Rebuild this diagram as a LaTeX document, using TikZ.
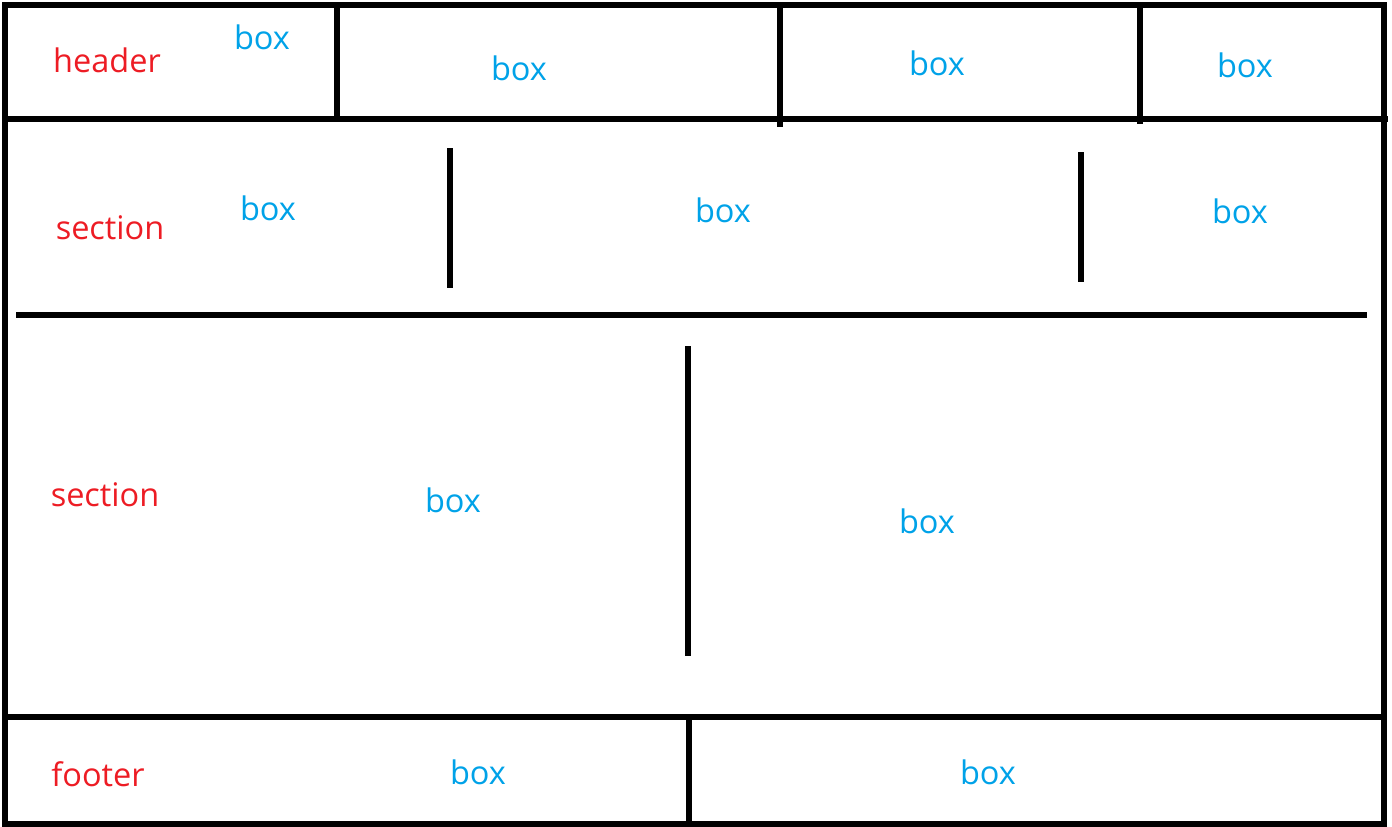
\documentclass[tikz,border=0pt]{standalone}
\usepackage{fontspec}
\setmainfont{Open Sans}
\usepackage{xcolor}
\definecolor{labelred}{RGB}{237,28,36}
\definecolor{boxblue}{RGB}{0,162,232}
\tikzset{
  part/.style={text=labelred, font=\fontsize{18.5}{20}\selectfont},
  boxtext/.style={text=boxblue, font=\fontsize{18.5}{20}\selectfont},
  wall/.style={line width=3pt, black}
}
\begin{document}
\begin{tikzpicture}[x=0.02cm, y=-0.02cm]
    \useasboundingbox (0, 0) rectangle (1392, 826);
    % Outer frame
    \draw[wall] (5, 5) rectangle (1384, 824);
    % Header
    \draw[wall] (5, 119) -- (1388, 119);
    \draw[wall] (337, 5) -- (337, 119);
    \draw[wall] (780, 5) -- (780, 127);
    \draw[wall] (1140, 5) -- (1140, 124);
    \node[part] (header) at (107, 60) {header};
    \node[boxtext] (hbox1) at (262, 37) {box};
    \node[boxtext] (hbox2) at (519, 68) {box};
    \node[boxtext] (hbox3) at (937, 63) {box};
    \node[boxtext] (hbox4) at (1245, 65) {box};
    % First section
    \draw[wall] (450, 148) -- (450, 288);
    \draw[wall] (1081, 152) -- (1081, 282);
    \draw[wall] (16, 315) -- (1367, 315);
    \node[part] (sectionA) at (110, 228) {section};
    \node[boxtext] (abox1) at (268, 208) {box};
    \node[boxtext] (abox2) at (723, 210) {box};
    \node[boxtext] (abox3) at (1240, 211) {box};
    % Second section
    \draw[wall] (688, 346) -- (688, 656);
    \node[part] (sectionB) at (105, 495) {section};
    \node[boxtext] (bbox1) at (453, 500) {box};
    \node[boxtext] (bbox2) at (927, 521) {box};
    % Footer
    \draw[wall] (5, 717) -- (1384, 717);
    \draw[wall] (689, 717) -- (689, 824);
    \node[part] (footer) at (98, 774) {footer};
    \node[boxtext] (fbox1) at (478, 772) {box};
    \node[boxtext] (fbox2) at (988, 772) {box};
\end{tikzpicture}
\end{document}
